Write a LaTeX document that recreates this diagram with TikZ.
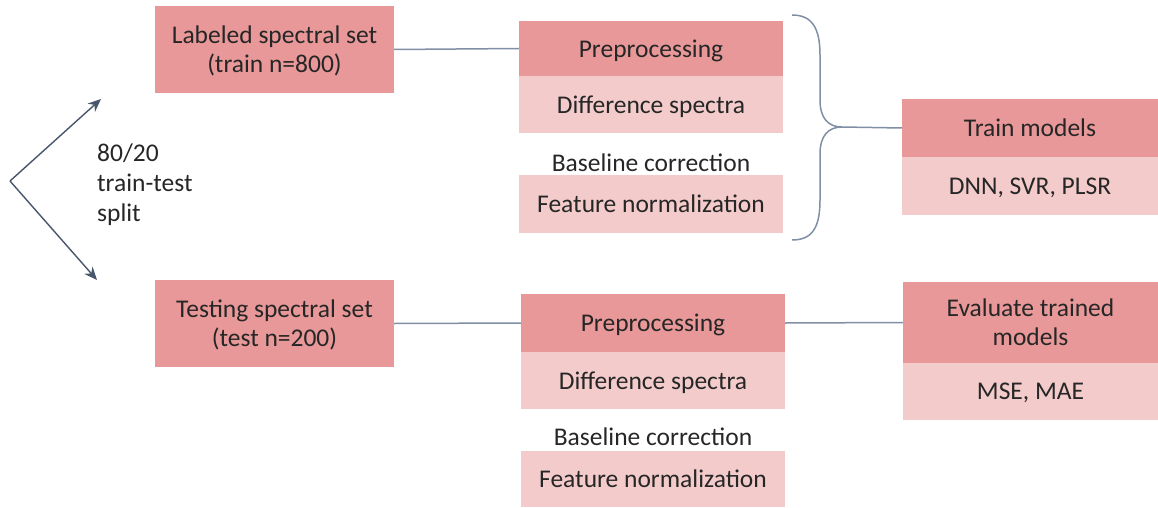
\documentclass[tikz,border=0pt]{standalone}
\usepackage{fontspec}
\setmainfont{Carlito}
\usetikzlibrary{arrows.meta}
\definecolor{hdr}{RGB}{232,152,152}
\definecolor{lite}{RGB}{244,203,203}
\definecolor{conn}{RGB}{128,143,166}
\definecolor{arr}{RGB}{72,86,108}
\definecolor{txt}{RGB}{38,38,38}
\begin{document}
\begin{tikzpicture}[x=1pt,y=-1pt,
  every node/.style={font=\fontsize{25.5}{29}\selectfont, text=txt, inner sep=0pt, align=center},
  hdrbox/.style={fill=hdr, draw=none, text depth=0pt},
  litebox/.style={fill=lite, draw=none, text depth=0pt},
  conline/.style={draw=conn, line width=1.5pt},
  splitarrow/.style={draw=arr, line width=1.4pt, -{Stealth[length=13pt,width=11pt]}}]
\useasboundingbox (0,0) rectangle (1158,508);
% left boxes
\node[hdrbox, minimum width=239pt, minimum height=87pt] (lab) at (274.5,49.5) {Labeled spectral set\\(train n=800)};
\node[hdrbox, minimum width=239pt, minimum height=87pt] (tst) at (274.5,323.5) {Testing spectral set\\(test n=200)};
% top preprocessing
\node[hdrbox, minimum width=264pt, minimum height=55pt] (pre1) at (651,48.5) {Preprocessing};
\node[litebox, minimum width=264pt, minimum height=57pt] (dif1) at (651,104.5) {Difference spectra};
\node[text depth=0pt] (bas1) at (651,163) {Baseline correction};
\node[litebox, minimum width=264pt, minimum height=58pt] (fea1) at (651,204) {Feature normalization};
% bottom preprocessing
\node[hdrbox, minimum width=264pt, minimum height=58pt] (pre2) at (653,323) {Preprocessing};
\node[litebox, minimum width=264pt, minimum height=57pt] (dif2) at (653,380.5) {Difference spectra};
\node[text depth=0pt] (bas2) at (653,437) {Baseline correction};
\node[litebox, minimum width=264pt, minimum height=56pt] (fea2) at (653,479) {Feature normalization};
% right boxes
\node[hdrbox, minimum width=256pt, minimum height=58pt] (trn) at (1030,128) {Train models};
\node[litebox, minimum width=256pt, minimum height=58pt] (dnn) at (1030,186) {DNN, SVR, PLSR};
\node[hdrbox, minimum width=255pt, minimum height=81pt] (evl) at (1030.5,322.5) {Evaluate trained\\models};
\node[litebox, minimum width=255pt, minimum height=57pt] (mse) at (1030.5,391.5) {MSE, MAE};
% split
\coordinate (sp) at (10,181);
\coordinate (up) at (101,99);
\coordinate (dn) at (97,280);
\draw[splitarrow] (sp) -- (up);
\draw[splitarrow] (sp) -- (dn);
\node[anchor=north west, align=left, font=\fontsize{25.5}{30}\selectfont] (lbl) at (97,144) {80/20\\train-test\\split};
% connectors
\draw[conline] (lab.east) -- (pre1.west);
\draw[conline] (tst.east) -- (pre2.west);
\draw[conline] (pre2.east) -- (evl.west);
% brace
\coordinate (bt) at (792,15);
\coordinate (bm) at (842,127);
\coordinate (bb) at (792,240);
\draw[conline] (bt) .. controls (812,15) and (820,28) .. (820,55) -- (820,100)
  .. controls (820,118) and (828,127) .. (bm)
  .. controls (828,127) and (820,136) .. (820,154) -- (820,200)
  .. controls (820,228) and (812,240) .. (bb);
\draw[conline] (bm) -- (trn.west);
\end{tikzpicture}
\end{document}
